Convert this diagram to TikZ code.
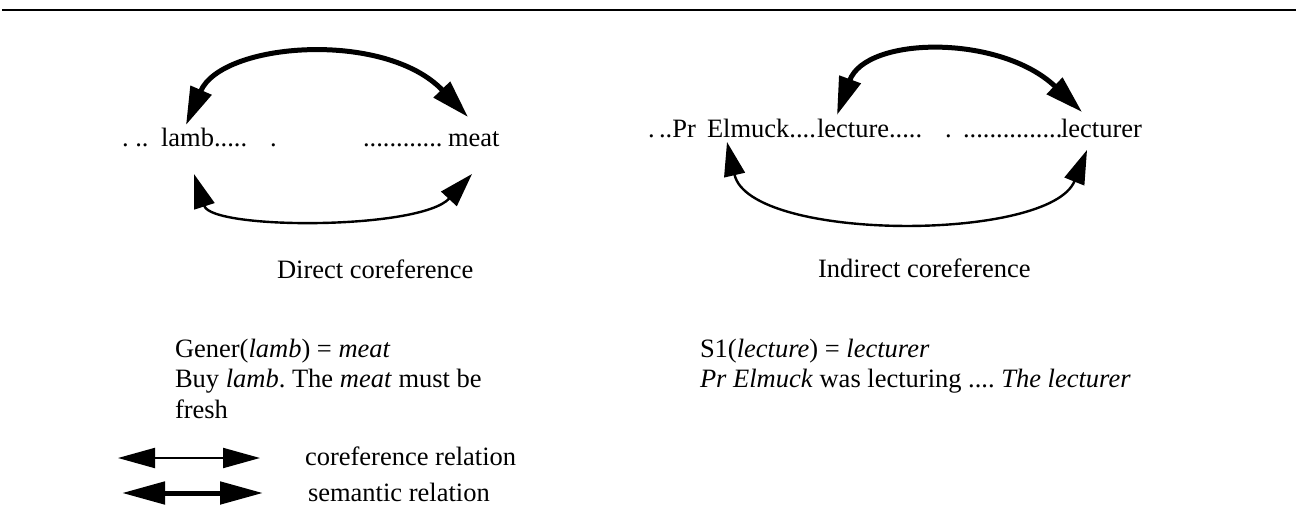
\documentclass[tikz,border=0pt]{standalone}
\usepackage{fontspec}
\setmainfont{Liberation Serif}
\usetikzlibrary{arrows.meta}
\frenchspacing
\tikzset{
  txt/.style={anchor=base west, inner sep=0pt, outer sep=0pt, font=\fontsize{26.5}{30}\selectfont},
  corefarrow/.style={line width=2.4pt, {Triangle[length=34pt,width=21pt]}-{Triangle[length=34pt,width=21pt]}},
  semarrow/.style={line width=5pt, {Triangle[length=38pt,width=22pt]}-{Triangle[length=38pt,width=22pt]}},
  rule/.style={line width=2.2pt}
}
\begin{document}
\begin{tikzpicture}[x=1pt,y=-1pt]
\useasboundingbox (0,0) rectangle (1296,508);
% top rule
\coordinate (rl) at (2,10);
\coordinate (rr) at (1296,10);
\draw[rule] (rl) -- (rr);

% left sentence
\node[txt] (ld) at (122,147) {.\ ..};
\node[txt] (lamb) at (161,147) {lamb.....};
\node[txt] (ldot) at (270,147) {.};
\node[txt] (mdots) at (363,147) {............};
\node[txt] (meat) at (448,147) {meat};

% right sentence
\node[txt] (rd) at (648,138) {.\hspace{4.5pt}..Pr};
\node[txt] (elmuck) at (707,138) {Elmuck....};
\node[txt] (lecture) at (817,138) {lecture.....};
\node[txt] (rdot) at (945,138) {.};
\node[txt] (rdots) at (963,138) {...............};
\node[txt] (lecturer) at (1061,138) {lecturer};

% arrow end points
\coordinate (lsA) at (186,125);
\coordinate (lsB) at (468,117);
\coordinate (lcA) at (194,174);
\coordinate (lcB) at (472,174);
\coordinate (rsA) at (837,115);
\coordinate (rsB) at (1082,112);
\coordinate (rcA) at (727,142);
\coordinate (rcB) at (1087,150);

% left diagram arcs
\draw[semarrow] (lsA) .. controls (222,42) and (385,30) .. (lsB);
\draw[corefarrow] (lcA) .. controls (212,230) and (420,230) .. (lcB);
% right diagram arcs
\draw[semarrow] (rsA) .. controls (866,36) and (1000,34) .. (rsB);
\draw[corefarrow] (rcA) .. controls (750,242) and (1050,242) .. (rcB);

% captions
\node[txt] (cap1) at (277,278) {Direct coreference};
\node[txt] (cap2) at (818,277) {Indirect coreference};

% examples
\node[txt] (g1) at (175,357) {Gener(\textit{lamb}) = \textit{meat}};
\node[txt] (g2) at (175,387) {Buy \textit{lamb}. The \textit{meat} must be};
\node[txt] (g3) at (175,418) {fresh};
\node[txt] (s1) at (700,357) {S1(\textit{lecture}) = \textit{lecturer}};
\node[txt] (s2) at (700,387) {\textit{Pr Elmuck} was lecturing .... \textit{The lecturer}};

% legend
\coordinate (lgA) at (118,458);
\coordinate (lgB) at (260,458);
\coordinate (lgC) at (122,493);
\coordinate (lgD) at (263,493);
\draw[corefarrow, {Triangle[length=37pt,width=20pt]}-{Triangle[length=37pt,width=20pt]}, line width=2pt] (lgA) -- (lgB);
\draw[semarrow, {Triangle[length=43pt,width=22pt]}-{Triangle[length=43pt,width=22pt]}] (lgC) -- (lgD);
\node[txt] (leg1) at (305,465) {coreference relation};
\node[txt] (leg2) at (308,501) {semantic relation};
\end{tikzpicture}
\end{document}
